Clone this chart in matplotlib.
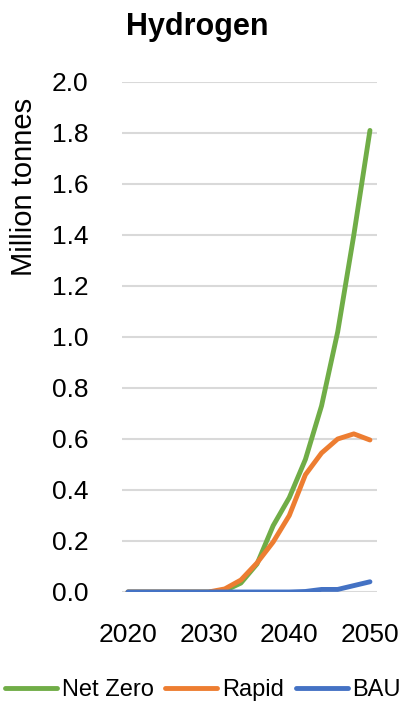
import matplotlib
matplotlib.use('Agg')
import matplotlib.pyplot as plt

years = [2020, 2022, 2024, 2026, 2028, 2030, 2032, 2034, 2036, 2038, 2040, 2042, 2044, 2046, 2048, 2050]
net_zero = [0, 0, 0, 0, 0, 0, 0.005, 0.035, 0.11, 0.26, 0.37, 0.52, 0.73, 1.02, 1.40, 1.81]
rapid = [0, 0, 0, 0, 0, 0, 0.012, 0.047, 0.114, 0.196, 0.30, 0.46, 0.545, 0.60, 0.62, 0.596]
bau = [0, 0, 0, 0, 0, 0, 0, 0, 0, 0, 0, 0.002, 0.01, 0.01, 0.025, 0.04]

plt.rcParams['font.family'] = ['Liberation Sans', 'DejaVu Sans']

fig = plt.figure(figsize=(4.06, 7.06), dpi=100)
ax = fig.add_axes([0.3005, 0.1615, 0.628, 0.7224])

ax.plot(years, net_zero, color='#70AD47', lw=3.5, solid_capstyle='round', label='Net Zero', zorder=3)
ax.plot(years, rapid, color='#ED7D31', lw=3.5, solid_capstyle='round', label='Rapid', zorder=3)
ax.plot(years, bau, color='#4472C4', lw=3.5, solid_capstyle='round', label='BAU', zorder=4)

ax.set_ylim(0, 2.0)
ax.set_xlim(2019.26, 2050.87)
ax.set_yticks([i * 0.2 for i in range(11)])
ax.set_yticklabels([f'{i * 0.2:.1f}' for i in range(11)])
ax.set_xticks([2020, 2030, 2040, 2050])
ax.tick_params(length=0, labelsize=19)
ax.tick_params(axis='y', pad=24)
ax.tick_params(axis='x', pad=22)
ax.grid(axis='y', color='#D9D9D9', lw=1.5)
ax.set_axisbelow(True)
for s in ax.spines.values():
    s.set_visible(False)

fig.text(0.059, 0.735, 'Million tonnes', rotation=90, ha='center', va='center', fontsize=21)
fig.text(0.485, 0.962, 'Hydrogen', ha='center', va='center', fontsize=22, fontweight='bold')

fig.legend(loc='center', bbox_to_anchor=(0.5, 0.022), ncol=3, frameon=False, fontsize=17,
           handlelength=2.2, handletextpad=0.2, columnspacing=0.5)

fig.savefig('out.png', dpi=100)
